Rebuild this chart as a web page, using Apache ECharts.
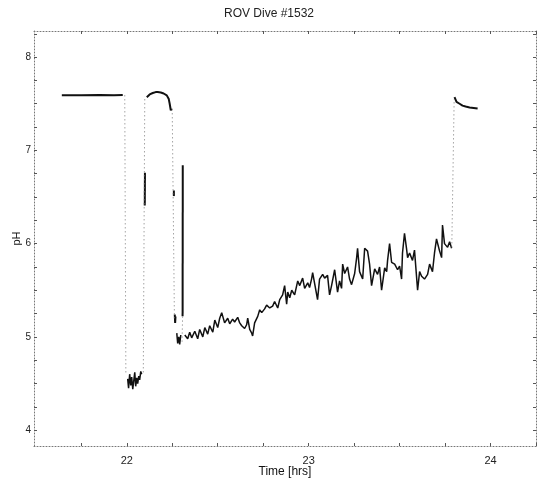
<!DOCTYPE html>
<html>
<head>
<meta charset="utf-8">
<script src="https://cdn.jsdelivr.net/npm/echarts@6/dist/echarts.min.js"></script>
<style>html,body{margin:0;padding:0;background:#fff}#c{width:538px;height:481px}</style>
</head>
<body>
<div id="c"></div>
<script>
// ---- tick labels ----
const timeLabels = [22, 23, 24];
const timeTicks = [21.75, 22, 22.25, 22.5, 22.75, 23, 23.25, 23.5, 23.75, 24, 24.25];
const phLabels = [4, 5, 6, 7, 8];
const phTicks = [4, 4.25, 4.5, 4.75, 5, 5.25, 5.5, 5.75, 6, 6.25, 6.5, 6.75, 7, 7.25, 7.5, 7.75, 8, 8.25];

// ---- data: [time (hrs), pH] ----
const surfaceStart = [[21.643, 7.59], [21.75, 7.59], [21.85, 7.595], [21.93, 7.59], [21.978, 7.595]];
const firstLow = [[22.005, 4.55], [22.010, 4.45], [22.016, 4.60], [22.022, 4.48], [22.027, 4.57], [22.033, 4.44],
  [22.038, 4.52], [22.044, 4.62], [22.049, 4.47], [22.055, 4.56], [22.060, 4.50], [22.066, 4.58],
  [22.071, 4.54], [22.077, 4.63], [22.082, 4.60]];
const riseBar = [[22.099, 6.41], [22.100, 6.76]];
const arc = [[22.110, 7.57], [22.126, 7.60], [22.143, 7.615], [22.159, 7.625], [22.170, 7.625], [22.187, 7.62],
  [22.203, 7.61], [22.220, 7.59], [22.231, 7.55], [22.236, 7.50], [22.242, 7.43], [22.247, 7.45]];
const dropMark = [[22.259, 6.57], [22.259, 6.51]];
const dropBlob = [[22.264, 5.24], [22.266, 5.15], [22.268, 5.22]];
const secondLow = [[22.275, 5.04], [22.280, 4.93], [22.286, 5.00], [22.291, 4.92], [22.297, 5.02]];
const spike = [[22.307, 5.22], [22.308, 6.84]];
const bottomTrend = [
  [22.319, 5.02], [22.335, 4.98], [22.346, 5.05], [22.357, 4.99], [22.374, 5.06], [22.390, 4.98],
  [22.401, 5.08], [22.418, 5.00], [22.429, 5.10], [22.445, 5.03], [22.456, 5.12], [22.473, 5.05],
  [22.484, 5.18], [22.500, 5.10], [22.511, 5.20], [22.522, 5.26], [22.538, 5.15], [22.555, 5.20],
  [22.566, 5.14], [22.582, 5.19], [22.593, 5.16], [22.610, 5.21], [22.621, 5.15], [22.632, 5.12],
  [22.648, 5.09], [22.659, 5.13], [22.665, 5.20], [22.676, 5.08], [22.687, 5.04], [22.692, 5.01],
  [22.703, 5.15], [22.720, 5.22], [22.731, 5.29], [22.742, 5.26], [22.758, 5.30], [22.769, 5.34],
  [22.786, 5.31], [22.802, 5.33], [22.813, 5.38], [22.830, 5.31], [22.841, 5.40], [22.857, 5.45],
  [22.868, 5.55], [22.879, 5.35], [22.885, 5.48], [22.896, 5.42], [22.907, 5.50], [22.923, 5.45],
  [22.940, 5.60], [22.951, 5.55], [22.967, 5.63], [22.978, 5.52], [22.995, 5.58], [23.005, 5.53],
  [23.016, 5.62], [23.022, 5.69], [23.033, 5.57], [23.049, 5.40], [23.060, 5.62], [23.077, 5.67],
  [23.088, 5.63], [23.104, 5.66], [23.115, 5.45], [23.126, 5.55], [23.143, 5.72], [23.159, 5.48],
  [23.170, 5.60], [23.181, 5.52], [23.187, 5.78], [23.198, 5.68], [23.214, 5.75], [23.225, 5.62],
  [23.236, 5.56], [23.253, 5.68], [23.264, 5.85], [23.269, 5.95], [23.280, 5.70], [23.297, 5.62],
  [23.308, 5.95], [23.324, 5.92], [23.335, 5.78], [23.346, 5.55], [23.363, 5.73], [23.379, 5.67],
  [23.390, 5.75], [23.401, 5.50], [23.418, 5.74], [23.429, 5.70], [23.434, 5.82], [23.445, 6.00],
  [23.456, 5.80], [23.473, 5.78], [23.489, 5.72], [23.500, 5.76], [23.511, 5.62], [23.516, 5.90],
  [23.527, 6.11], [23.538, 5.95], [23.544, 5.85], [23.555, 5.90], [23.571, 5.82], [23.582, 5.93],
  [23.599, 5.50], [23.610, 5.70], [23.621, 5.65], [23.637, 5.62], [23.654, 5.67], [23.665, 5.78],
  [23.681, 5.70], [23.692, 5.90], [23.703, 6.05], [23.720, 5.92], [23.731, 5.85], [23.736, 6.20],
  [23.747, 6.00], [23.764, 5.96], [23.775, 6.02], [23.786, 5.95]];
const surfaceEnd = [[23.802, 7.57], [23.808, 7.58], [23.813, 7.52], [23.819, 7.52], [23.830, 7.50],
  [23.846, 7.48], [23.863, 7.47], [23.885, 7.46], [23.907, 7.455], [23.929, 7.45]];

// fast sensor transitions (sparse samples -> dotted)
const descent1 = [[21.989, 7.59], [21.995, 4.60]];
const ascent1 = [[22.091, 4.62], [22.099, 7.58]];
const descent2 = [[22.250, 7.44], [22.262, 5.20]];
const spikeBase = [[22.304, 4.95], [22.307, 5.22]];
const ascent2 = [[23.787, 5.96], [23.800, 7.55]];

const thick = [surfaceStart, arc, surfaceEnd, riseBar, spike, dropMark, dropBlob];
const thin = [firstLow, secondLow, bottomTrend];
const dotted = [descent1, ascent1, descent2, spikeBase, ascent2];

const series = [];
thick.forEach(d => series.push({type: 'line', data: d, symbol: 'none', silent: true,
  lineStyle: {color: '#111', width: 2}}));
thin.forEach(d => series.push({type: 'line', data: d, symbol: 'none', silent: true,
  lineStyle: {color: '#111', width: 1.5}}));
dotted.forEach(d => series.push({type: 'line', data: d, symbol: 'none', silent: true,
  lineStyle: {color: '#777', width: 1, type: [1, 3]}}));

const frameLine = {show: true, lineStyle: {color: '#777', width: 1, type: [1, 2]}};
const font = 'Liberation Sans, Arial, sans-serif';

const chart = echarts.init(document.getElementById('c'), null, {renderer: 'canvas'});
chart.setOption({
  backgroundColor: '#fff',
  animation: false,
  title: {text: 'ROV Dive #1532', left: 'center', top: 3,
    textStyle: {fontFamily: font, fontSize: 12, fontWeight: 'normal', color: '#222'}},
  grid: {left: 34, right: 2, top: 31, bottom: 35, containLabel: false, outerBoundsMode: 'none'},
  xAxis: [{
    type: 'value', min: 21.49, max: 24.25, position: 'bottom',
    axisLine: frameLine, splitLine: {show: false},
    axisTick: {show: true, inside: true, length: 3, customValues: timeTicks, lineStyle: {color: '#555'}},
    axisLabel: {customValues: timeLabels, fontFamily: font, fontSize: 11, color: '#222', margin: 9},
    name: 'Time [hrs]', nameLocation: 'middle', nameGap: 20, nameMoveOverlap: false,
    nameTextStyle: {fontFamily: font, fontSize: 12, color: '#111'}
  }, {
    type: 'value', min: 21.49, max: 24.25, position: 'top',
    axisLine: frameLine, splitLine: {show: false},
    axisTick: {show: true, inside: true, length: 3, customValues: timeTicks, lineStyle: {color: '#555'}},
    axisLabel: {show: false}
  }],
  yAxis: [{
    type: 'value', min: 3.83, max: 8.28, position: 'left',
    axisLine: frameLine, splitLine: {show: false},
    axisTick: {show: true, inside: true, length: 3, customValues: phTicks, lineStyle: {color: '#555'}},
    axisLabel: {customValues: phLabels, fontFamily: font, fontSize: 10, color: '#222', margin: 3},
    name: 'pH', nameLocation: 'middle', nameGap: 12, nameMoveOverlap: false,
    nameTextStyle: {fontFamily: font, fontSize: 11, color: '#111'}
  }, {
    type: 'value', min: 3.83, max: 8.28, position: 'right',
    axisLine: frameLine, splitLine: {show: false},
    axisTick: {show: true, inside: true, length: 3, customValues: phTicks, lineStyle: {color: '#555'}},
    axisLabel: {show: false}
  }],
  series: series
});
</script>
</body>
</html>
